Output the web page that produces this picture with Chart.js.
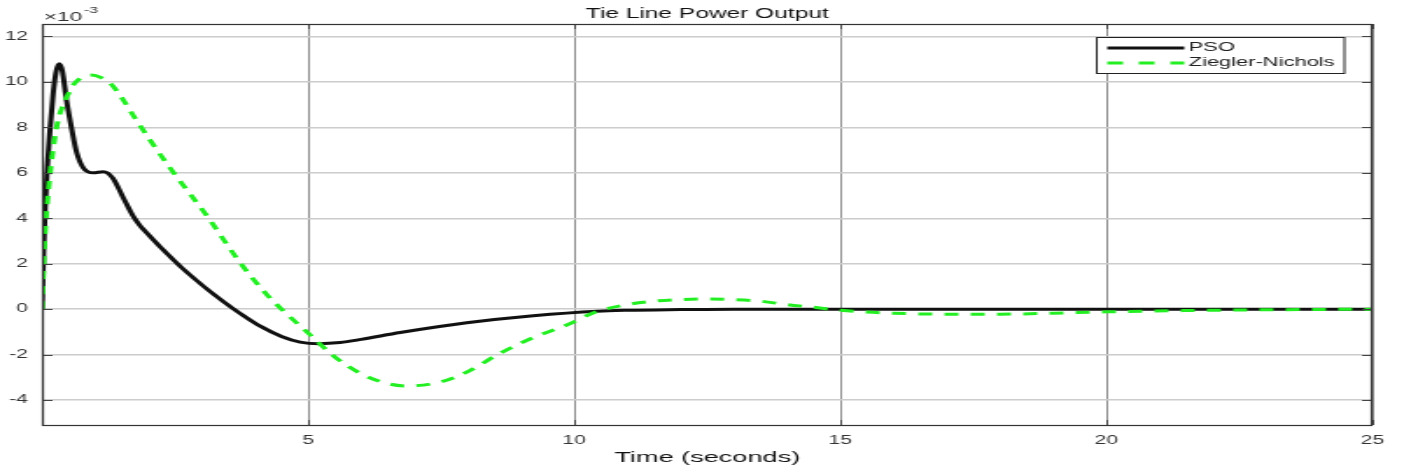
<!DOCTYPE html>
<html>
<head>
<meta charset="utf-8">
<script src="https://cdn.jsdelivr.net/npm/chart.js@4.4.1/dist/chart.umd.min.js"></script>
<style>
html,body{margin:0;padding:0;background:#fff;overflow:hidden;}
#wrap{width:1404px;height:472px;position:relative;overflow:hidden;}
#c{position:absolute;left:0;top:0;transform-origin:0 0;transform:scaleX(1.7506);}
</style>
</head>
<body>
<div id="wrap"><canvas id="c" width="802" height="472"></canvas></div>
<script>
// ---- data (y values in units of 1e-3) ----
const chartTitle = "Tie Line Power Output";
const xTitle = "Time (seconds)";
const seriesNames = ["PSO", "Ziegler-Nichols"];
const psoT = [0, 0.03, 0.06, 0.1, 0.15, 0.21, 0.26, 0.32, 0.38, 0.46, 0.56, 0.65, 0.78, 0.96, 1.15, 1.33, 1.52, 1.71, 1.84, 1.97, 2.27, 2.59, 2.91, 3.21, 3.59, 3.78, 4.1, 4.5, 4.85, 5.2, 5.6, 6, 6.73, 7.98, 9.23, 10.43, 11, 12, 13, 15, 20, 25];
const psoY = [0, 2.6, 4.5, 6.3, 7.9, 9.5, 10.4, 10.8, 10.5, 9.2, 7.9, 6.9, 6.2, 6.0, 6.05, 5.77, 4.93, 4.1, 3.68, 3.35, 2.62, 1.9, 1.25, 0.68, 0.02, -0.28, -0.75, -1.2, -1.45, -1.52, -1.47, -1.33, -1.03, -0.6, -0.29, -0.09, -0.05, -0.02, 0, 0, 0, 0];
const znT = [0, 0.05, 0.1, 0.2, 0.3, 0.4, 0.5, 0.6, 0.75, 0.93, 1.1, 1.3, 1.5, 1.75, 2.03, 2.41, 3.1, 3.72, 4.22, 4.5, 5, 5.5, 6, 6.5, 6.85, 7.5, 8, 8.6, 9.23, 9.86, 10.43, 11, 11.5, 12, 12.5, 13, 13.5, 14, 14.5, 15, 16, 17, 18, 19, 20, 22, 25];
const znY = [0, 3, 4.7, 6.9, 8.3, 9.0, 9.5, 9.9, 10.2, 10.3, 10.2, 9.9, 9.3, 8.4, 7.44, 6.2, 4.1, 2.05, 0.65, 0.0, -1.05, -2.1, -2.85, -3.28, -3.38, -3.2, -2.75, -1.95, -1.25, -0.7, -0.1, 0.2, 0.35, 0.42, 0.45, 0.42, 0.35, 0.2, 0.08, -0.05, -0.18, -0.22, -0.22, -0.18, -0.12, -0.05, 0];
const xTicks = [5, 10, 15, 20, 25];
const yTicks = [-4, -2, 0, 2, 4, 6, 8, 10, 12];
const xRange = [0, 25];
const yRange = [-5.1, 12.55];
const exponentLabel = "-3";

const FONT = "'Liberation Sans', Arial, Helvetica, sans-serif";

const decor = {
  id: 'decor',
  afterDraw(chart) {
    const ctx = chart.ctx, a = chart.chartArea;
    const xs = chart.scales.x, ys = chart.scales.y;
    ctx.save();
    // inner tick marks
    ctx.strokeStyle = '#444'; ctx.lineWidth = 1;
    yTicks.forEach(v => {
      const p = Math.round(ys.getPixelForValue(v)) + 0.5;
      ctx.beginPath(); ctx.moveTo(a.left, p); ctx.lineTo(a.left + 6, p);
      ctx.moveTo(a.right, p); ctx.lineTo(a.right - 6, p); ctx.stroke();
    });
    xTicks.forEach(v => {
      const p = Math.round(xs.getPixelForValue(v)) + 0.5;
      ctx.beginPath(); ctx.moveTo(p, a.bottom); ctx.lineTo(p, a.bottom - 5);
      ctx.moveTo(p, a.top); ctx.lineTo(p, a.top + 5); ctx.stroke();
    });
    // box
    ctx.strokeStyle = '#333'; ctx.lineWidth = 1.2;
    ctx.strokeRect(a.left + 0.5, a.top + 0.5, a.right - a.left - 1, a.bottom - a.top);
    // title
    ctx.fillStyle = '#111';
    ctx.font = '14px ' + FONT;
    ctx.textAlign = 'center'; ctx.textBaseline = 'alphabetic';
    ctx.fillText(chartTitle, (a.left + a.right) / 2, 18);
    // exponent
    ctx.fillStyle = '#333';
    ctx.textAlign = 'left';
    ctx.font = '13px ' + FONT;
    ctx.fillText('\u00d710', a.left + 1, 21);
    const w = ctx.measureText('\u00d710').width;
    ctx.font = '9px ' + FONT;
    ctx.fillText(exponentLabel, a.left + 2 + w, 13);
    // legend
    const lx = 626.5, ly = 37, lw = 141.5, lh = 36;
    ctx.fillStyle = '#fff';
    ctx.fillRect(lx, ly, lw, lh);
    ctx.strokeStyle = '#222'; ctx.lineWidth = 1;
    ctx.strokeRect(lx, ly + 0.5, lw, lh);
    const ds = chart.data.datasets;
    ds.forEach((d, i) => {
      const yy = ly + 11 + i * 15;
      ctx.strokeStyle = d.borderColor; ctx.lineWidth = 3;
      ctx.setLineDash(i === 1 ? [9, 9] : []);
      ctx.beginPath(); ctx.moveTo(lx + 6, yy); ctx.lineTo(lx + 50, yy); ctx.stroke();
      ctx.setLineDash([]);
      ctx.fillStyle = '#222';
      ctx.font = '12.5px ' + FONT;
      ctx.textBaseline = 'middle';
      ctx.fillText(d.label, lx + 52.5, yy);
    });
    ctx.restore();
  }
};

new Chart(document.getElementById('c'), {
  type: 'line',
  data: {
    datasets: [
      {
        label: seriesNames[0],
        data: psoT.map((t, i) => ({x: t, y: psoY[i]})),
        borderColor: '#111111',
        borderWidth: 3,
        pointRadius: 0,
        cubicInterpolationMode: 'monotone',
        fill: false,
        order: 1
      },
      {
        label: seriesNames[1],
        data: znT.map((t, i) => ({x: t, y: znY[i]})),
        borderColor: '#22ee22',
        borderWidth: 3,
        borderDash: [8, 7],
        pointRadius: 0,
        cubicInterpolationMode: 'monotone',
        fill: false,
        order: 0
      }
    ]
  },
  options: {
    responsive: false,
    animation: false,
    devicePixelRatio: 1,
    layout: { padding: { top: 24, right: 18, left: 0, bottom: 0 } },
    plugins: {
      legend: { display: false },
      title: { display: false },
      tooltip: { enabled: false }
    },
    scales: {
      x: {
        type: 'linear',
        min: xRange[0], max: xRange[1],
        afterBuildTicks: s => { s.ticks = xTicks.map(v => ({value: v})); },
        afterFit: s => { s.height = 47; },
        grid: { color: '#8c8c8c', lineWidth: 1, drawTicks: false },
        border: { display: false },
        ticks: { color: '#333', font: { family: FONT, size: 12 }, padding: 8, maxRotation: 0 },
        title: { display: true, text: xTitle, color: '#111', font: { family: FONT, size: 15.5 }, padding: { top: 2, bottom: 5 } }
      },
      y: {
        type: 'linear',
        min: yRange[0], max: yRange[1],
        afterBuildTicks: s => { s.ticks = yTicks.map(v => ({value: v})); },
        afterFit: s => { s.width = 24; },
        grid: { color: '#cccccc', lineWidth: 1.5, drawTicks: false },
        border: { display: false },
        ticks: { color: '#333', font: { family: FONT, size: 12 }, padding: 8 }
      }
    }
  },
  plugins: [decor]
});
</script>
</body>
</html>
